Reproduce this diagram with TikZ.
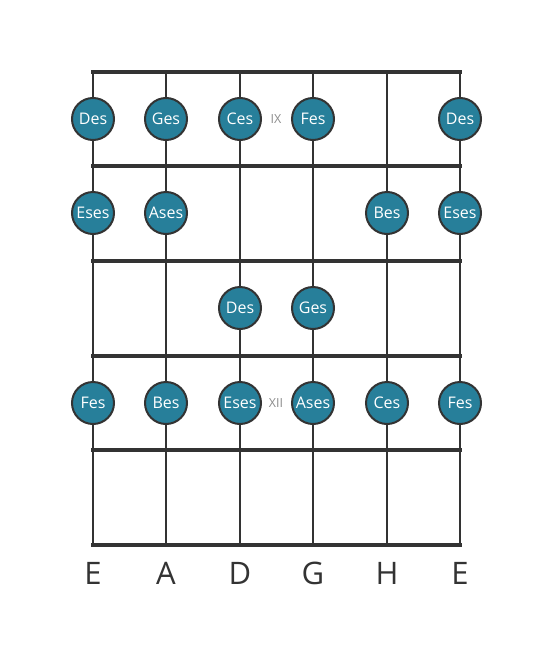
\documentclass[tikz,border=0pt]{standalone}
\usepackage{fontspec}
\setmainfont{Open Sans}
\usetikzlibrary{calc}
\definecolor{dotfill}{RGB}{39,127,154}
\definecolor{linegray}{RGB}{51,51,51}
\definecolor{fretgray}{RGB}{140,140,140}

\begin{document}
\begin{tikzpicture}[x=1pt,y=-1pt]
% Styles
\tikzstyle{note} = [circle, minimum size=42pt, inner sep=0pt, draw=linegray, line width=2pt, fill=dotfill, text=white, font=\fontsize{16}{17}\selectfont]
\tikzstyle{fretnum} = [text=fretgray, font=\fontsize{12.5}{13}\selectfont]
\tikzstyle{stringname} = [text=linegray, font=\fontsize{31}{32}\selectfont]
\tikzstyle{fretline} = [line width=4pt, draw=linegray]
\tikzstyle{stringline} = [line width=2.4pt, draw=linegray]

\useasboundingbox (0,0) rectangle (553,656);

% Strings
\draw [stringline] (93,72) -- (93,545);
\draw [stringline] (166,72) -- (166,545);
\draw [stringline] (240,72) -- (240,545);
\draw [stringline] (313,72) -- (313,545);
\draw [stringline] (387,72) -- (387,545);
\draw [stringline] (460,72) -- (460,545);

% Frets
\draw [fretline] (91,72) -- (462,72);
\draw [fretline] (91,166) -- (462,166);
\draw [fretline] (91,261) -- (462,261);
\draw [fretline] (91,356) -- (462,356);
\draw [fretline] (91,450) -- (462,450);
\draw [fretline] (91,545) -- (462,545);

% Fret numbers
\node (fret9) [fretnum] at (276,119) {IX};
\node (fret12) [fretnum] at (276,403) {XII};

% Nodes
\node (des1) [note] at (93,119) {Des};
\node (ges1) [note] at (166,119) {Ges};
\node (ces1) [note] at (240,119) {Ces};
\node (fes1) [note] at (313,119) {Fes};
\node (des2) [note] at (460,119) {Des};

\node (eses1) [note] at (93,213) {Eses};
\node (ases1) [note] at (166,213) {Ases};
\node (bes1) [note] at (387,213) {Bes};
\node (eses2) [note] at (460,213) {Eses};

\node (des3) [note] at (240,308) {Des};
\node (ges2) [note] at (313,308) {Ges};

\node (fes2) [note] at (93,403) {Fes};
\node (bes2) [note] at (166,403) {Bes};
\node (eses3) [note] at (240,403) {Eses};
\node (ases2) [note] at (313,403) {Ases};
\node (ces2) [note] at (387,403) {Ces};
\node (fes3) [note] at (460,403) {Fes};

% String names
\node (strE) [stringname] at (93,573) {E};
\node (strA) [stringname] at (166,573) {A};
\node (strD) [stringname] at (240,573) {D};
\node (strG) [stringname] at (313,573) {G};
\node (strH) [stringname] at (387,573) {H};
\node (strE2) [stringname] at (460,573) {E};
\end{tikzpicture}
\end{document}
